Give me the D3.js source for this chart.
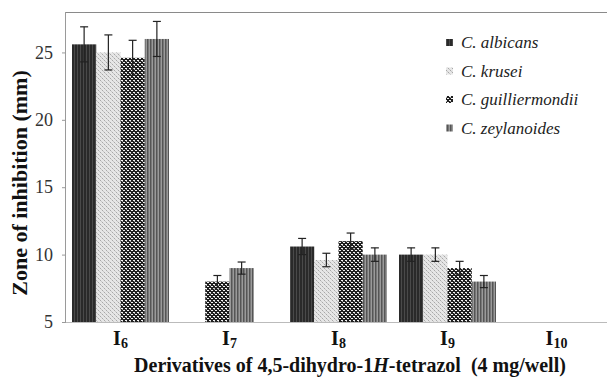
<!DOCTYPE html>
<html><head><meta charset="utf-8">
<script src="https://cdn.jsdelivr.net/npm/d3@7"></script>
<style>body{margin:0;background:#fff}svg{display:block}</style>
</head><body>
<script>
const categories = ["6","7","8","9","10"];
const seriesNames = ["C. albicans","C. krusei","C. guilliermondii","C. zeylanoides"];
const albicans = [25.6, null, 10.6, 10.0, null];
const krusei = [25.0, null, 9.6, 10.0, null];
const guilliermondii = [24.6, 8.0, 11.0, 9.0, null];
const zeylanoides = [26.0, 9.0, 10.0, 8.0, null];
const errAlbicans = [1.3, null, 0.6, 0.5, null];
const errKrusei = [1.3, null, 0.5, 0.5, null];
const errGuilliermondii = [1.3, 0.45, 0.6, 0.5, null];
const errZeylanoides = [1.3, 0.45, 0.5, 0.45, null];
const yTicks = [5, 10, 15, 20, 25];

const values = [albicans, krusei, guilliermondii, zeylanoides];
const errors = [errAlbicans, errKrusei, errGuilliermondii, errZeylanoides];

const W = 607, H = 377;
const mLeft = 66, mTop = 12, mBottom = 322, band = 109;
const FONT = "Liberation Serif";
const svg = d3.select("body").append("svg").attr("width", W).attr("height", H);
const defs = svg.append("defs");

function pat(id, w, h, bg, draw){
  const p = defs.append("pattern").attr("id", id).attr("patternUnits","userSpaceOnUse")
    .attr("width", w).attr("height", h);
  p.append("rect").attr("width", w).attr("height", h).attr("fill", bg);
  draw(p);
}
pat("p0", 3, 3, "#2a2a2a", p => {
  p.append("rect").attr("x",2).attr("y",0).attr("width",1).attr("height",3).attr("fill","#4a4a4a");
});
pat("p1", 4, 4, "#e6e6e6", p => {
  p.append("rect").attr("x",0).attr("y",0).attr("width",1).attr("height",1).attr("fill","#a8a8a8");
  p.append("rect").attr("x",2).attr("y",2).attr("width",1).attr("height",1).attr("fill","#a8a8a8");
  p.append("rect").attr("x",1).attr("y",1).attr("width",1).attr("height",1).attr("fill","#c8c8c8");
  p.append("rect").attr("x",3).attr("y",3).attr("width",1).attr("height",1).attr("fill","#c8c8c8");
});
pat("p2", 4, 4, "#1e1e1e", p => {
  p.append("rect").attr("x",1).attr("y",0).attr("width",2).attr("height",1).attr("fill","#f4f4f4");
  p.append("rect").attr("x",0).attr("y",2).attr("width",1).attr("height",1).attr("fill","#f4f4f4");
  p.append("rect").attr("x",3).attr("y",2).attr("width",1).attr("height",1).attr("fill","#f4f4f4");
  p.append("rect").attr("x",2).attr("y",1).attr("width",1).attr("height",1).attr("fill","#9a9a9a");
});
pat("p3", 3, 3, "#9a9a9a", p => {
  p.append("rect").attr("x",0).attr("y",0).attr("width",1.5).attr("height",3).attr("fill","#555");
});

const x = d3.scaleBand().domain(categories).range([mLeft, mLeft + band*categories.length]).padding(0);
const y = d3.scaleLinear().domain([5, 28]).range([mBottom, mTop]);
const barW = 24.25;

svg.append("line").attr("x1", mLeft).attr("x2", W).attr("y1", mTop+0.5).attr("y2", mTop+0.5)
  .attr("stroke", "#8a8a8a").attr("stroke-width", 1);

const yAxis = svg.append("g").attr("transform", `translate(${mLeft},0)`)
  .call(d3.axisLeft(y).tickValues(yTicks).tickSize(4).tickPadding(9).tickFormat(d3.format("d")));
yAxis.attr("font-family", FONT).attr("font-size", 18);
yAxis.select(".domain").attr("stroke", "#9a9a9a").attr("d", `M-0.5,${mTop}V${mBottom}`);
yAxis.selectAll(".tick line").attr("stroke", "#9a9a9a");
yAxis.selectAll("text").attr("fill", "#333");

categories.forEach((c, ci) => {
  const present = seriesNames.filter((s, si) => values[si][ci] != null);
  const cx = x(c) + x.bandwidth()/2;
  const inner = d3.scaleBand().domain(present)
    .range([cx - present.length*barW/2, cx + present.length*barW/2]);
  present.forEach(s => {
    const si = seriesNames.indexOf(s);
    const v = values[si][ci], e = errors[si][ci];
    const bx = inner(s);
    svg.append("rect").attr("x", bx).attr("y", y(v)).attr("width", inner.bandwidth())
      .attr("height", y(5) - y(v)).attr("fill", `url(#p${si})`);
    const ex = bx + inner.bandwidth()/2;
    const g = svg.append("g").attr("stroke", "#222").attr("stroke-width", 1.2);
    g.append("line").attr("x1", ex).attr("x2", ex).attr("y1", y(v+e)).attr("y2", y(v-e));
    g.append("line").attr("x1", ex-4).attr("x2", ex+4).attr("y1", y(v+e)).attr("y2", y(v+e));
    g.append("line").attr("x1", ex-4).attr("x2", ex+4).attr("y1", y(v-e)).attr("y2", y(v-e));
  });
});

svg.append("line").attr("x1", mLeft).attr("x2", W).attr("y1", mBottom+0.5).attr("y2", mBottom+0.5)
  .attr("stroke", "#bbb").attr("stroke-width", 1.2);

categories.forEach(c => {
  const t = svg.append("text").attr("x", x(c) + x.bandwidth()/2).attr("y", 345)
    .attr("text-anchor", "middle").attr("font-family", FONT)
    .attr("font-weight", "bold").attr("font-size", 20).attr("fill", "#111");
  t.append("tspan").text("I");
  t.append("tspan").attr("font-size", 14).attr("dy", 3).text(c);
});

const xt = svg.append("text").attr("x", 350).attr("y", 372).attr("text-anchor", "middle")
  .attr("font-family", FONT).attr("font-weight", "bold")
  .attr("font-size", 20).attr("fill", "#111");
xt.append("tspan").text("Derivatives of 4,5-dihydro-1");
xt.append("tspan").attr("font-style", "italic").text("H");
xt.append("tspan").text("-tetrazol\u00a0 (4 mg/well)");

svg.append("text").attr("transform", "translate(27,183) rotate(-90)").attr("text-anchor", "middle")
  .attr("font-family", FONT).attr("font-weight", "bold")
  .attr("font-size", 22).attr("fill", "#111").text("Zone of inhibition (mm)");

const legY = [43, 71.5, 100, 128.5];
seriesNames.forEach((s, i) => {
  svg.append("rect").attr("x", 446).attr("y", legY[i] - 4).attr("width", 7).attr("height", 7)
    .attr("fill", `url(#p${i})`);
  svg.append("text").attr("x", 461).attr("y", legY[i] + 5).attr("font-family", FONT)
    .attr("font-style", "italic").attr("font-size", 17).attr("fill", "#222").text(s);
});
</script>
</body></html>
